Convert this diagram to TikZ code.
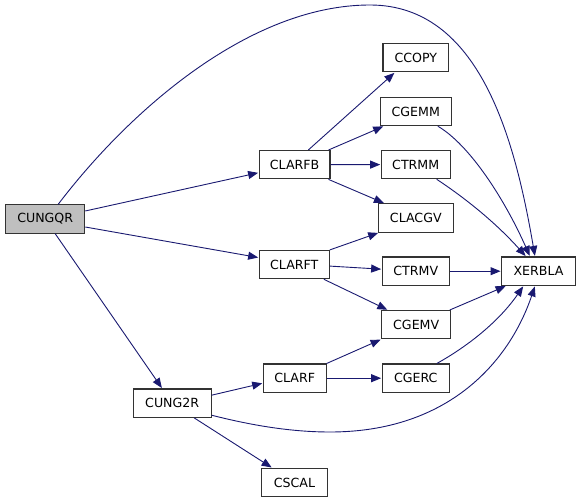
\documentclass[tikz,border=0pt]{standalone}
\usepackage{fontspec}
\setmainfont{DejaVu Sans}
\usetikzlibrary{arrows.meta}
\definecolor{edgeblue}{HTML}{191970}
\definecolor{boxgray}{HTML}{BFBFBF}
\tikzset{
  fn/.style={draw=black!80, line width=1.1pt, fill=white, inner sep=0pt,
    minimum height=28.3pt, font=\fontsize{12.6}{15}\selectfont},
  root/.style={fn, fill=boxgray},
  call/.style={draw=edgeblue, line width=0.9pt, shorten >=0.6pt,
    -{Triangle[length=10pt,width=8pt]}},
}
\begin{document}
\begin{tikzpicture}[x=1pt,y=-1pt]
\useasboundingbox (0,0) rectangle (581,502);
\node[root, minimum width=79pt]   (cungqr) at (45.2,219)   {CUNGQR};
\node[fn, minimum width=70.7pt]   (clarfb) at (294.6,164.7) {CLARFB};
\node[fn, minimum width=65.7pt]   (ccopy)  at (415.8,57.8)  {CCOPY};
\node[fn, minimum width=71pt]     (cgemm)  at (415.8,111.5) {CGEMM};
\node[fn, minimum width=68.7pt]   (ctrmm)  at (415.7,164.6) {CTRMM};
\node[fn, minimum width=75pt]     (clacgv) at (415.8,218)   {CLACGV};
\node[fn, minimum width=70pt]     (clarft) at (294.3,264.6) {CLARFT};
\node[fn, minimum width=67pt]     (ctrmv)  at (415.8,271.2) {CTRMV};
\node[fn, minimum width=73.6pt]   (xerbla) at (538.5,271.2) {XERBLA};
\node[fn, minimum width=69pt]     (cgemv)  at (416.2,324.7) {CGEMV};
\node[fn, minimum width=62.7pt]   (clarf)  at (294.7,378.2) {CLARF};
\node[fn, minimum width=67pt]     (cgerc)  at (415.8,378.2) {CGERC};
\node[fn, minimum width=77.7pt]   (cung2r) at (172.2,403.2) {CUNG2R};
\node[fn, minimum width=65.6pt]   (cscal)  at (294.5,482.5) {CSCAL};

% CUNGQR
\draw[call] ([yshift=8pt]cungqr.east) -- ([yshift=-8pt]clarfb.west);
\draw[call] ([yshift=-8pt]cungqr.east) -- ([yshift=7pt]clarft.west);
\draw[call] ([xshift=10pt]cungqr.south) -- ([xshift=-10pt]cung2r.north);
\draw[call] ([xshift=13pt]cungqr.north) .. controls (130,110) and (250,5) .. (370,5)
  .. controls (480,5) and (515,140) .. ([xshift=-3.5pt]xerbla.north);
% CLARFB
\draw[call] ([xshift=13.7pt]clarfb.north) -- ([xshift=-21pt]ccopy.south);
\draw[call] ([xshift=-2pt]clarfb.north east) -- ([xshift=4pt]cgemm.south west);
\draw[call] (clarfb.east) -- (ctrmm.west);
\draw[call] ([xshift=-2pt]clarfb.south east) -- ([xshift=6.7pt]clacgv.north west);
% CGEMM, CTRMM
\draw[call] ([xshift=22pt]cgemm.south) .. controls (470,145) and (505,200) .. ([xshift=-8.5pt]xerbla.north);
\draw[call] ([xshift=21pt]ctrmm.south) .. controls (465,198) and (495,222) .. ([xshift=-12.5pt]xerbla.north);
% CLARFT
\draw[call] (clarft.north east) -- ([xshift=1pt]clacgv.south west);
\draw[call] ([yshift=-1.5pt]clarft.east) -- ([yshift=2pt]ctrmv.west);
\draw[call] ([xshift=-6pt]clarft.south east) -- ([xshift=6.7pt]cgemv.north west);
% to XERBLA
\draw[call] (ctrmv.east) -- (xerbla.west);
\draw[call] ([xshift=-1.5pt]cgemv.north east) -- ([xshift=5pt]xerbla.south west);
\draw[call] ([xshift=21pt]cgerc.north) .. controls (470,345) and (500,320) .. ([xshift=-15pt]xerbla.south);
% CLARF
\draw[call] (clarf.north east) -- (cgemv.south west);
\draw[call] (clarf.east) -- (cgerc.west);
% CUNG2R
\draw[call] ([yshift=8pt]cung2r.east) -- ([yshift=-5pt]clarf.west);
\draw[call] ([xshift=22pt]cung2r.south) -- ([xshift=11pt]cscal.north west);
\draw[call] ([yshift=-12pt]cung2r.east) .. controls (250,425) and (290,432) .. (330,432)
  .. controls (450,432) and (510,360) .. ([xshift=-3.5pt]xerbla.south);
\end{tikzpicture}
\end{document}
